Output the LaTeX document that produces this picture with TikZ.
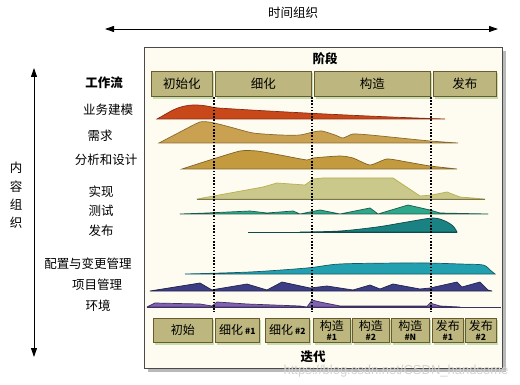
\documentclass[tikz,border=0pt]{standalone}
\usepackage{fontspec}
\setmainfont{Noto Sans CJK SC}
\newfontfamily\wmfont{Liberation Sans}
\usetikzlibrary{arrows.meta}
\definecolor{panelbg}{HTML}{FEFCF0}
\definecolor{panelline}{HTML}{4A4A4A}
\definecolor{boxfill}{HTML}{BDB67E}
\definecolor{boxline}{HTML}{6B5A2E}
\definecolor{boxshadow}{HTML}{C6DDB0}
\definecolor{cA}{HTML}{C8481A}\definecolor{eA}{HTML}{8A2A10}
\definecolor{cB}{HTML}{C9A150}\definecolor{eB}{HTML}{8A6A30}
\definecolor{cC}{HTML}{C49A3E}\definecolor{eC}{HTML}{7E6228}
\definecolor{cD}{HTML}{CBC88C}\definecolor{eD}{HTML}{B8B050}
\definecolor{cE}{HTML}{2EA88A}\definecolor{eE}{HTML}{1A5A4A}
\definecolor{cF}{HTML}{1A8282}\definecolor{eF}{HTML}{0E4A4A}
\definecolor{cG}{HTML}{22A0B0}\definecolor{eG}{HTML}{125A66}
\definecolor{cH}{HTML}{3C3D82}\definecolor{eH}{HTML}{23244E}
\definecolor{cI}{HTML}{8162B2}\definecolor{eI}{HTML}{3E3060}
\tikzset{
  x=1pt, y=-1pt,
  txt/.style={inner sep=0pt, font=\fontsize{12.5}{14}\selectfont},
  btxt/.style={inner sep=0pt, font=\fontsize{12.5}{14}\selectfont\bfseries},
  phasebox/.style={draw=boxline, fill=boxfill, line width=0.8pt, inner sep=0pt,
     font=\fontsize{12.5}{14}\selectfont},
  iterbox/.style={draw=boxline, fill=boxfill, line width=0.8pt, inner sep=0pt,
     font=\fontsize{12}{11}\selectfont, align=center},
  dline/.style={line width=1.3pt, dash pattern=on 1.6pt off 1.6pt},
  bigarrow/.style={line width=0.9pt, {Triangle[length=9pt,width=6pt]}-{Triangle[length=9pt,width=6pt]}},
  edge/.style={line width=0.7pt},
}
\newcommand{\sm}[1]{{\fontsize{8.5}{9}\selectfont\bfseries #1}}
\newcommand{\pbox}[5]{%
  \fill[boxshadow] (#1+2,#2+2) rectangle (#3+2,#4+3);
  \node[phasebox, minimum width=#3-#1, minimum height=#4-#2, anchor=north west] at (#1,#2) {#5};}
\begin{document}
\begin{tikzpicture}
\useasboundingbox (0,0) rectangle (520,385);
% time axis
\coordinate (tl) at (105,29);
\coordinate (tr) at (498,29);
\draw[bigarrow] (tl) -- (tr);
\node[txt] (tlabel) at (293,13) {时间组织};
% content axis
\coordinate (vt) at (34,68);
\coordinate (vb) at (34,357);
\draw[bigarrow] (vt) -- (vb);
\node[txt] (v1) at (16,168) {内};
\node[txt] (v2) at (16,187) {容};
\node[txt] (v3) at (16,205) {组};
\node[txt] (v4) at (16,223) {织};
% panel
\fill[gray!55] (148,51) rectangle (506,372);
\fill[panelbg] (144,47) rectangle (502,368);
\draw[panelline, line width=0.8pt] (144,368) -- (144,47) -- (502,47) -- (502,368) -- cycle;
\node[btxt] (stage) at (325,59) {阶段};
% phase boxes
\pbox{151}{71}{212}{96}{初始化}
\pbox{215}{71}{311}{96}{细化}
\pbox{314}{71}{430}{96}{构造}
\pbox{433}{71}{496}{96}{发布}
% workflow labels
\node[btxt] (wf) at (104,83) {工作流};
\node[txt] (w1) at (108,110) {业务建模};
\node[txt] (w2) at (100,136) {需求};
\node[txt] (w3) at (106,160) {分析和设计};
\node[txt] (w4) at (101,192) {实现};
\node[txt] (w5) at (101,211) {测试};
\node[txt] (w6) at (101,231) {发布};
\node[txt] (w7) at (88,264) {配置与变更管理};
\node[txt] (w8) at (97,285) {项目管理};
\node[txt] (w9) at (98,306) {环境};
% row 1
\filldraw[fill=cA, draw=eA, edge] (157,119) .. controls (170,112) and (178,105) .. (195,105) .. controls (205,105) and (210,107) .. (218,108) .. controls (280,112) and (380,117) .. (445,119) -- cycle;
% row 2
\filldraw[fill=cB, draw=eB, edge] plot[smooth, tension=0.35] coordinates {(159,143) (180,132) (200,122) (212,122.5) (230,127) (253,133) (280,135) (300,135) (313,132) (322,131) (335,135) (343,138) (353,134) (370,135) (400,138) (430,141) (458,143)} -- cycle;
% row 3
\filldraw[fill=cC, draw=eC, edge] plot[smooth, tension=0.35] coordinates {(182,169) (210,160) (240,151) (257,151) (280,155) (307,160) (313,158) (340,156) (353,158) (370,165) (387,159) (407,162) (430,166) (457,169)} -- cycle;
% row 4
\filldraw[fill=cD, draw=eD, edge, line join=round] (197,199) -- (263,187) -- (277,183) -- (305,185) -- (313,179) -- (323,178) -- (393,178) -- (420,196) -- (432,195) -- (447,192) -- (460,197) -- (485,199) -- cycle;
\draw[edge, color=cD!60!black] (197,199) -- (485,199);
% row 5
\filldraw[fill=cE, draw=eE, edge, line join=round] (180,214) -- (207,213) -- (250,211) -- (267,213) -- (293,211) -- (300,214) -- (320,210) -- (340,214) -- (370,208) -- (378,214) -- (408,205) -- (430,210) -- (440,213) -- (488,214) -- cycle;
% row 6
\filldraw[fill=cF, draw=eF, edge] plot[smooth, tension=0.5] coordinates {(300,232) (340,231) (377,227) (407,222) (433,218) (445,221) (453,226) (457,232)} -- cycle;
\draw[eF, edge] (248,232) -- (457,232);
% row 7
\filldraw[fill=cG, draw=eG, edge] plot[smooth, tension=0.5] coordinates {(185,274) (250,272) (307,268) (340,264) (400,263) (427,263) (460,264) (483,265) (490,270) (495,274)} -- cycle;
% row 8
\filldraw[fill=cH, draw=eH, edge, line join=round] (150,291) -- (200,283) -- (212,290) -- (217,289) -- (247,284) -- (267,290) -- (282,282) -- (310,288) -- (327,286) -- (353,290) -- (370,285) -- (380,289) -- (393,284) -- (420,289) -- (430,288) -- (457,282) -- (462,287) -- (480,282) -- (488,290) -- (492,291) -- cycle;
% row 9
\filldraw[fill=cI, draw=eI, edge, line join=round] (147,307) -- (155,303) -- (200,304) -- (212,306) -- (217,302) -- (247,304) -- (300,306) -- (307,307) -- (312,300) -- (320,302) -- (340,306) -- (427,306) -- (430,303) -- (440,306) -- (460,307) -- cycle;
\draw[eI, edge] (147,307) -- (501,307);
% dotted phase separators
\draw[dline] (214,97) -- (214,312);
\draw[dline] (312,97) -- (312,312);
\draw[dline] (431,97) -- (431,312);
% iteration boxes
\fill[boxshadow] (155,320) rectangle (214,345);
\fill[boxshadow] (217,320) rectangle (261,345);
\fill[boxshadow] (267,320) rectangle (311,345);
\fill[boxshadow] (315,320) rectangle (352,345);
\fill[boxshadow] (354,320) rectangle (391,345);
\fill[boxshadow] (393,320) rectangle (431,345);
\fill[boxshadow] (434,320) rectangle (465,345);
\fill[boxshadow] (467,320) rectangle (498,345);
\node[iterbox, minimum width=59, minimum height=24, anchor=north west] (i1) at (153,318) {初始};
\node[iterbox, minimum width=44, minimum height=24, anchor=north west] (i2) at (215,318) {细化\,\sm{\#1}};
\node[iterbox, minimum width=44, minimum height=24, anchor=north west] (i3) at (265,318) {细化\,\sm{\#2}};
\node[iterbox, minimum width=37, minimum height=24, anchor=north west] (i4) at (313,318) {构造\\[-1pt]\sm{\#1}};
\node[iterbox, minimum width=37, minimum height=24, anchor=north west] (i5) at (352,318) {构造\\[-1pt]\sm{\#2}};
\node[iterbox, minimum width=38, minimum height=24, anchor=north west] (i6) at (391,318) {构造\\[-1pt]\sm{\#N}};
\node[iterbox, minimum width=31, minimum height=24, anchor=north west] (i7) at (432,318) {发布\\[-1pt]\sm{\#1}};
\node[iterbox, minimum width=31, minimum height=24, anchor=north west] (i8) at (465,318) {发布\\[-1pt]\sm{\#2}};
\node[btxt] (iter) at (313,357) {迭代};
% watermark
\node[inner sep=0pt, text=gray!35, font=\wmfont\fontsize{13}{14}\selectfont] (wm) at (396,371) {https://blog.csdn.net/CSDN\_handsome};
\end{tikzpicture}
\end{document}
